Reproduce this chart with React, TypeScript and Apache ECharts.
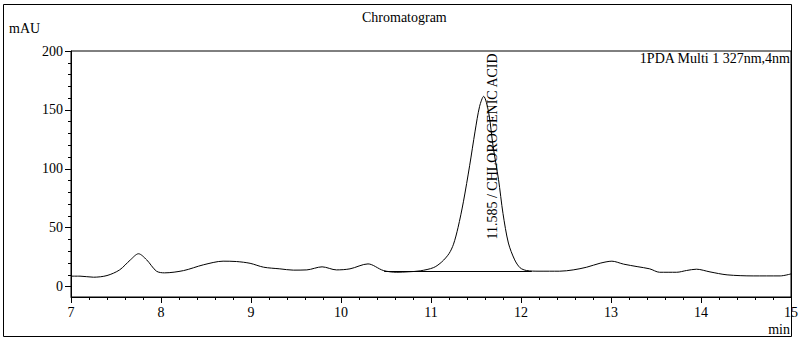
import React, { useEffect, useRef } from "react";
import * as echarts from "echarts";

// Retention time (min) and detector signal (mAU)
const times = [
  7.0, 7.1, 7.25, 7.4, 7.54, 7.66, 7.75, 7.84, 7.95, 8.04, 8.25, 8.47, 8.69, 8.84,
  8.99, 9.14, 9.32, 9.47, 9.62, 9.79, 9.95, 10.1, 10.3, 10.47, 10.62, 10.75, 10.88,
  11.03, 11.12, 11.2, 11.25, 11.3, 11.36, 11.43, 11.49, 11.54, 11.585, 11.64, 11.69,
  11.75, 11.8, 11.86, 11.93, 11.99, 12.06, 12.2, 12.43, 12.58, 12.73, 12.88, 13.01,
  13.14, 13.29, 13.43, 13.54, 13.73, 13.84, 13.95, 14.1, 14.29, 14.58, 14.88, 15.0,
];
const signal = [
  8.9, 8.9, 8.0, 9.4, 14.2, 22.7, 27.9, 22.8, 13.1, 11.7, 13.6, 18.5, 21.6, 21.3,
  19.8, 16.5, 15.1, 14.0, 14.2, 16.8, 14.2, 15.1, 19.3, 13.7, 12.2, 12.6, 13.4,
  16.2, 21.0, 28.0, 36.0, 50.0, 72.0, 103.0, 132.0, 153.0, 161.5, 148.0, 119.0,
  91.0, 62.0, 37.0, 22.7, 16.0, 13.7, 13.1, 13.1, 14.2, 16.5, 19.9, 21.6,
  19.1, 17.0, 15.1, 12.2, 12.2, 13.7, 14.8, 12.5, 10.0, 9.1, 9.1, 10.8,
];

const yMajorTicks = [0, 50, 100, 150, 200];
const yMinorTicks = [10, 20, 30, 40, 60, 70, 80, 90, 110, 120, 130, 140, 160, 170, 180, 190];

const peakTimes = [11.585];
const peakNames = ["CHLOROGENIC ACID"];
const peakLabelStart = [40];

const baselineTimes = [10.48, 12.12];
const baselineLevels = [13.1, 13.1];

const FONT = '"Liberation Serif", "Times New Roman", serif';

export default function App() {
  const ref = useRef<HTMLDivElement>(null);

  useEffect(() => {
    document.body.style.margin = "0";
    if (!ref.current) return;
    const chart = echarts.init(ref.current, undefined, { renderer: "svg" });

    const black = "#000";
    const option: any = {
      animation: false,
      backgroundColor: "#fff",
      title: {
        text: "Chromatogram",
        left: 357,
        top: 5,
        textStyle: { fontFamily: FONT, fontSize: 14, fontWeight: "normal", color: black },
      },
      grid: {
        left: 71,
        top: 51,
        width: 720,
        height: 246,
        show: true,
        borderColor: black,
        borderWidth: 1,
        backgroundColor: "transparent",
      },
      xAxis: {
        type: "value",
        min: 7,
        max: 15,
        interval: 1,
        axisLine: { show: true, onZero: false, lineStyle: { color: black, width: 1 } },
        axisTick: { show: true, length: 6, lineStyle: { color: black } },
        minorTick: { show: true, splitNumber: 5, length: 3, lineStyle: { color: black } },
        splitLine: { show: false },
        axisLabel: { color: black, fontFamily: FONT, fontSize: 14, margin: 8 },
      },
      yAxis: [
        {
          type: "value",
          min: -8.8,
          max: 200,
          axisLine: { show: true, onZero: false, lineStyle: { color: black, width: 1 } },
          axisTick: { show: true, length: 6, customValues: yMajorTicks, lineStyle: { color: black } },
          axisLabel: {
            color: black,
            fontFamily: FONT,
            fontSize: 14,
            margin: 8,
            customValues: yMajorTicks,
          },
          splitLine: { show: false },
        },
        {
          type: "value",
          min: -8.8,
          max: 200,
          position: "left",
          axisLine: { show: false },
          axisTick: { show: true, length: 3, customValues: yMinorTicks, lineStyle: { color: black } },
          axisLabel: { show: false },
          splitLine: { show: false },
        },
      ],
      series: [
        {
          type: "line",
          name: "1PDA Multi 1 327nm,4nm",
          data: times.map((t, i) => [t, signal[i]]),
          symbol: "none",
          smooth: 0.3,
          lineStyle: { color: black, width: 1 },
          markLine: {
            silent: true,
            symbol: "none",
            label: { show: false },
            lineStyle: { color: black, width: 1, type: "solid" },
            data: [
              [
                { coord: [baselineTimes[0], baselineLevels[0]] },
                { coord: [baselineTimes[1], baselineLevels[1]] },
              ],
            ],
          },
          markPoint: {
            silent: true,
            symbol: "circle",
            symbolSize: 0,
            data: peakTimes.map((t, i) => ({
              coord: [t, peakLabelStart[i]],
              name: peakNames[i],
              value: t,
            })),
            label: {
              show: true,
              position: [9, 0],
              rotate: 90,
              align: "left",
              verticalAlign: "middle",
              color: black,
              fontFamily: FONT,
              fontSize: 14,
              formatter: (p: any) => `${Number(p.value).toFixed(3)} / ${p.name}`,
            },
          },
        },
      ],
      graphic: [
        {
          type: "rect",
          shape: { x: 3.5, y: 4.5, width: 788, height: 332 },
          style: { fill: "none", stroke: black, lineWidth: 1 },
          silent: true,
        },
        {
          type: "text",
          x: 9,
          y: 28,
          style: { text: "mAU", fill: black, font: `14px ${FONT}`, textAlign: "left", textVerticalAlign: "middle" },
        },
        {
          type: "text",
          x: 790,
          y: 58.5,
          style: {
            text: "1PDA Multi 1 327nm,4nm",
            fill: black,
            font: `14px ${FONT}`,
            textAlign: "right",
            textVerticalAlign: "middle",
          },
        },
        {
          type: "text",
          x: 790,
          y: 329,
          style: { text: "min", fill: black, font: `14px ${FONT}`, textAlign: "right", textVerticalAlign: "middle" },
        },
      ],
    };

    chart.setOption(option);
    return () => chart.dispose();
  }, []);

  return <div ref={ref} style={{ width: 804, height: 343 }} />;
}
